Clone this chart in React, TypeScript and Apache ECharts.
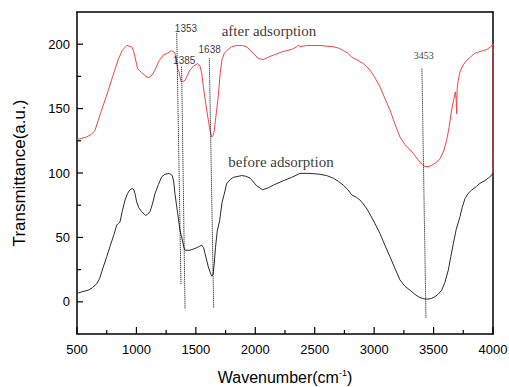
import React, { useEffect, useRef } from "react";
import * as echarts from "echarts";

// Wavenumber (cm-1) and transmittance (a.u.)
const afterWn = [500, 582, 620, 651, 700, 763, 800, 847, 880, 918, 960, 975, 988, 1010, 1044, 1080, 1106, 1130, 1156, 1190, 1226, 1260, 1296, 1315, 1324, 1339, 1350, 1358, 1375, 1390, 1409, 1430, 1451, 1480, 1515, 1535, 1550, 1563, 1591, 1619, 1633, 1645, 1655, 1670, 1689, 1705, 1720, 1740, 1759, 1800, 1843, 1890, 1928, 1960, 1983, 2025, 2067, 2110, 2152, 2222, 2306, 2350, 2362, 2375, 2432, 2544, 2656, 2700, 2740, 2780, 2811, 2853, 2909, 2965, 3000, 3049, 3090, 3133, 3175, 3217, 3260, 3302, 3340, 3371, 3400, 3428, 3460, 3484, 3520, 3554, 3585, 3610, 3630, 3652, 3670, 3683, 3690, 3695, 3698, 3708, 3722, 3750, 3779, 3810, 3848, 3880, 3918, 3950, 3980, 4000, 4000];
const afterT = [126, 128, 130, 133, 147, 164, 175, 188, 195, 199, 198, 195, 190, 181, 178, 175, 174, 176, 180, 187, 191.5, 193, 195, 194, 193, 186, 180, 178.6, 171, 171, 172, 176, 180, 183, 185, 183, 177, 167, 149, 133, 128, 129, 133, 145, 160, 178, 188, 193, 195, 198, 199, 199, 198, 195, 193, 189, 188, 190, 191.5, 194, 196, 198, 199.5, 198, 199, 199, 198, 197, 195, 193, 190, 188, 185, 180, 175, 167, 158, 149, 138, 128, 122, 118, 114, 110, 107, 105, 105, 106, 108, 111, 117, 125.5, 135, 149, 157, 163, 158, 146, 165, 172, 178.6, 184, 187.6, 190, 193, 194, 195, 196, 198, 200, 100];

const beforeWn = [500, 550, 595, 630, 666, 690, 721, 750, 778, 810, 834, 850, 862, 880, 904, 925, 946, 965, 978, 988, 1002, 1020, 1044, 1078, 1095, 1114, 1135, 1156, 1185, 1212, 1240, 1277, 1302, 1314, 1324, 1336, 1347, 1366, 1386, 1400, 1409, 1451, 1480, 1507, 1530, 1549, 1565, 1577, 1605, 1620, 1633, 1645, 1655, 1665, 1680, 1700, 1720, 1745, 1759, 1790, 1815, 1886, 1920, 1956, 1985, 2012, 2062, 2110, 2152, 2236, 2306, 2376, 2460, 2544, 2600, 2656, 2700, 2740, 2780, 2811, 2853, 2881, 2909, 2940, 2965, 3000, 3049, 3090, 3133, 3175, 3217, 3260, 3302, 3340, 3371, 3410, 3441, 3480, 3512, 3540, 3568, 3595, 3624, 3645, 3666, 3690, 3722, 3740, 3764, 3790, 3820, 3860, 3890, 3930, 3960, 3985, 4000];
const beforeT = [6.5, 8, 9, 11, 14, 18, 27, 35, 43, 52, 59.5, 61, 62, 70, 79, 84, 87, 88, 87, 84, 77.6, 73, 70, 67, 68, 70, 76, 84, 91, 97, 99, 99.7, 98, 93, 84, 76, 68.6, 55.7, 48, 42, 40, 40, 41, 42, 43, 44, 42, 37.6, 27, 23, 20, 21, 30, 42, 55, 63, 77, 86, 92, 95, 96.6, 98, 97.5, 96, 93, 90, 87, 88.5, 90.6, 94, 96.6, 99.7, 99.7, 99, 98, 96, 93.5, 90.6, 87, 83, 81, 79, 76, 72, 68, 62, 53, 44, 35, 26, 17, 12, 9, 6, 4, 2.5, 2, 2.5, 4, 6, 9, 15, 24.6, 35, 45, 56, 66, 73, 80, 84, 86.7, 89.5, 92, 94, 96, 98, 100];

// Dotted peak marker lines: [wnTop, tTop, wnBottom, tBottom]
const peakLines = [
  [1339, 208.5, 1375, 13.7],
  [1380, 182.5, 1409, -5.7],
  [1613, 189, 1650, -5],
  [3402, 181, 3436, -12.3],
];
// Peak labels and their anchor points (wn, t)
const peakLabels = ["1353", "1385", "1638", "3453"];
const peakLabelPos = [
  [1417, 212.5],
  [1402, 187],
  [1616, 196],
  [3417, 191],
];
const peakLabelSerif = [false, false, false, true];

const curveNames = ["after adsorption", "before adsorption"];
const curveNamePos = [
  [2115, 210.5],
  [2216, 108.5],
];

const xTicks = [500, 1000, 1500, 2000, 2500, 3000, 3500, 4000];
const xMinorTicks = [750, 1250, 1750, 2250, 2750, 3250, 3750];
const yTicks = [0, 50, 100, 150, 200];
const yMinorTicks = [25, 75, 125, 175];
const X_MIN = 500;
const X_MAX = 4000;
const Y_MIN = -25;
const Y_MAX = 225;

export default function App() {
  const ref = useRef<HTMLDivElement>(null);
  useEffect(() => {
    if (!ref.current) return;
    const chart = echarts.init(ref.current, undefined, { renderer: "svg" });
    const sans = "Liberation Sans, Arial, sans-serif";
    const serif = "Liberation Serif, Times New Roman, serif";
    const series: any[] = [
      {
        type: "line",
        data: afterWn.map((w, i) => [w, afterT[i]]),
        symbol: "none",
        lineStyle: { color: "#f04545", width: 1 },
        z: 3,
      },
      {
        type: "line",
        data: beforeWn.map((w, i) => [w, beforeT[i]]),
        symbol: "none",
        lineStyle: { color: "#2a2a2a", width: 1 },
        z: 3,
      },
    ];
    peakLines.forEach((l) => {
      series.push({
        type: "line",
        data: [
          [l[0], l[1]],
          [l[2], l[3]],
        ],
        symbol: "none",
        silent: true,
        lineStyle: { color: "#000", width: 1, type: [1, 1] },
        z: 4,
      });
    });
    series.push({
      type: "scatter",
      symbolSize: 0,
      silent: true,
      data: peakLabels.map((t, i) => ({
        name: t,
        value: peakLabelPos[i],
        label: { fontFamily: peakLabelSerif[i] ? serif : sans },
      })),
      label: {
        show: true,
        position: "inside",
        formatter: (p: any) => p.name,
        fontSize: 10,
        color: "#000",
      },
      z: 5,
    });
    series.push({
      type: "scatter",
      symbolSize: 0,
      silent: true,
      data: curveNames.map((t, i) => ({ name: t, value: curveNamePos[i] })),
      label: {
        show: true,
        position: "inside",
        formatter: (p: any) => p.name,
        fontSize: 15,
        fontFamily: serif,
        color: "#000",
      },
      z: 5,
    });

    const frameLine = { show: true, onZero: false, lineStyle: { color: "#000", width: 1.5 } };
    chart.setOption({
      animation: false,
      grid: { left: 77, right: 16, top: 12, bottom: 53, show: false, outerBoundsMode: "none", containLabel: false },
      xAxis: [
        {
          type: "value",
          position: "bottom",
          min: X_MIN,
          max: X_MAX,
          interval: 500,
          name: "Wavenumber(cm{sup|-1})",
          nameLocation: "middle",
          nameGap: 34,
          nameTextStyle: {
            fontSize: 16,
            fontFamily: sans,
            color: "#000",
            rich: {
              sup: { fontSize: 9, fontFamily: sans, color: "#000", verticalAlign: "top", padding: [0, 0, 10, 0] },
            },
          },
          axisLine: frameLine,
          axisTick: { show: false },
          splitLine: { show: false },
          axisLabel: {
            show: true,
            fontSize: 13,
            fontFamily: sans,
            color: "#000",
            margin: 9,
            formatter: (v: number) => (xTicks.includes(v) ? String(v) : ""),
          },
        },
        {
          type: "value",
          position: "top",
          min: X_MIN,
          max: X_MAX,
          axisLine: frameLine,
          axisTick: { show: false },
          axisLabel: { show: false },
          splitLine: { show: false },
        },
      ],
      yAxis: [
        {
          type: "value",
          position: "left",
          min: Y_MIN,
          max: Y_MAX,
          interval: 25,
          name: "Transmittance(a.u.)",
          nameLocation: "middle",
          nameGap: 49,
          nameTextStyle: { fontSize: 17, fontFamily: sans, color: "#000" },
          axisLine: frameLine,
          axisTick: { show: false },
          splitLine: { show: false },
          axisLabel: {
            show: true,
            fontSize: 13,
            fontFamily: sans,
            color: "#000",
            margin: 7,
            formatter: (v: number) => (yTicks.includes(v) ? String(v) : ""),
          },
        },
        {
          type: "value",
          position: "right",
          min: Y_MIN,
          max: Y_MAX,
          axisLine: frameLine,
          axisTick: { show: false },
          axisLabel: { show: false },
          splitLine: { show: false },
        },
      ],
      series,
    });

    // inward tick marks: positions come from the axis scales via convertToPixel
    const ticks: any[] = [];
    const px = (v: number[]) => chart.convertToPixel({ gridIndex: 0 }, v) as number[];
    const addX = (v: number, len: number) => {
      const p = px([v, Y_MIN]);
      ticks.push({ type: "rect", silent: true, z: 100, shape: { x: p[0] - 0.6, y: p[1] - len, width: 1.2, height: len }, style: { fill: "#000" } });
    };
    const addY = (v: number, len: number) => {
      const p = px([X_MIN, v]);
      ticks.push({ type: "rect", silent: true, z: 100, shape: { x: p[0], y: p[1] - 0.6, width: len, height: 1.2 }, style: { fill: "#000" } });
    };
    xTicks.forEach((v) => addX(v, 7));
    xMinorTicks.forEach((v) => addX(v, 4));
    yTicks.forEach((v) => addY(v, 6));
    yMinorTicks.forEach((v) => addY(v, 4));
    chart.setOption({ graphic: ticks });

    return () => chart.dispose();
  }, []);
  return <div ref={ref} style={{ width: 509, height: 387, position: "absolute", left: 0, top: 0 }} />;
}
